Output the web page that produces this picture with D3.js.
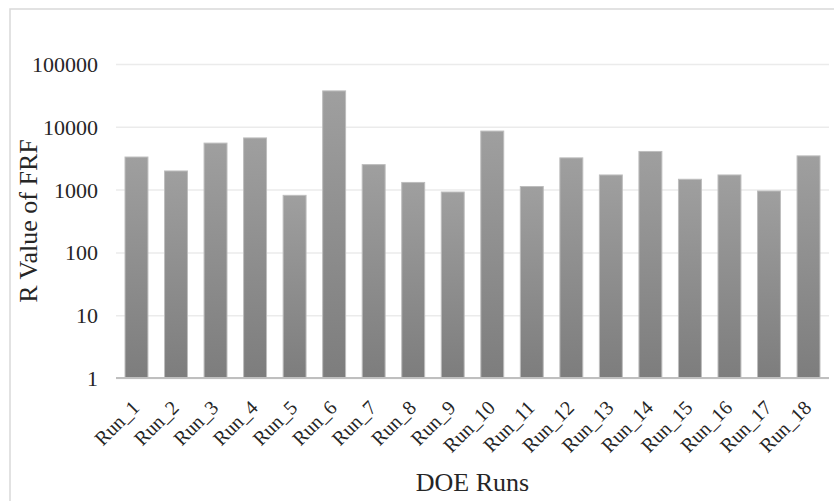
<!DOCTYPE html>
<html>
<head>
<meta charset="utf-8">
<script src="https://cdn.jsdelivr.net/npm/d3@7"></script>
<style>
  body { margin: 0; background: #fff; }
</style>
</head>
<body>
<div id="chart"></div>
<script>
// data (log axis)
const runs = ["Run_1", "Run_2", "Run_3", "Run_4", "Run_5", "Run_6", "Run_7", "Run_8", "Run_9",
  "Run_10", "Run_11", "Run_12", "Run_13", "Run_14", "Run_15", "Run_16", "Run_17", "Run_18"];
const rValues = [3300, 1980, 5500, 6650, 810, 37300, 2500, 1300, 915,
  8550, 1120, 3200, 1710, 4050, 1460, 1710, 950, 3440];
const yTicks = [1, 10, 100, 1000, 10000, 100000];

const svgWidth = 834,
  svgHeight = 501,
  plotLeft = 116,
  plotRight = 829,
  plotTop = 64,
  plotBottom = 378,
  serif = "'Liberation Serif', 'DejaVu Serif', 'Times New Roman', serif";

const svg = d3
  .select("#chart")
  .append("svg")
  .attr("width", svgWidth)
  .attr("height", svgHeight);

// chart frame
svg
  .append("rect")
  .attr("x", 10)
  .attr("y", 9)
  .attr("width", 900)
  .attr("height", 600)
  .attr("fill", "#fff")
  .attr("stroke", "#d9d9d9")
  .attr("stroke-width", 1.5);

const grad = svg
  .append("defs")
  .append("linearGradient")
  .attr("id", "barfill")
  .attr("x1", 0)
  .attr("y1", 0)
  .attr("x2", 0)
  .attr("y2", 1);
grad.append("stop").attr("offset", "0%").attr("stop-color", "#9f9f9f");
grad.append("stop").attr("offset", "100%").attr("stop-color", "#7d7d7d");

const x = d3
  .scaleBand()
  .domain(runs)
  .range([plotLeft + 0.7, plotRight - 0.7])
  .paddingInner(0.42)
  .paddingOuter(0.21);

const y = d3.scaleLog().domain([1, 100000]).range([plotBottom, plotTop]);

// y axis with gridlines
const yAxis = svg
  .append("g")
  .attr("transform", `translate(${plotLeft},0)`)
  .call(
    d3
      .axisLeft(y)
      .tickValues(yTicks)
      .tickFormat(d3.format("d"))
      .tickSize(-(plotRight - plotLeft))
      .tickPadding(18)
  );
yAxis.select(".domain").remove();
yAxis.selectAll("line").attr("stroke", "#ebebeb").attr("stroke-width", 1.5);
yAxis
  .selectAll("text")
  .style("font-family", serif)
  .style("font-size", "22px")
  .attr("fill", "#262626")
  .attr("dy", "0.34em");

// bars
svg
  .append("g")
  .selectAll("rect")
  .data(rValues)
  .enter()
  .append("rect")
  .attr("x", (d, i) => x(runs[i]))
  .attr("y", d => y(d))
  .attr("width", x.bandwidth())
  .attr("height", d => y(1) - y(d))
  .attr("fill", "url(#barfill)")
  .attr("stroke", "#bdbdbd")
  .attr("stroke-width", 1);

// x axis
const xAxis = svg
  .append("g")
  .attr("transform", `translate(0,${plotBottom})`)
  .call(d3.axisBottom(x).tickSize(0).tickPadding(0));
xAxis
  .select(".domain")
  .attr("d", `M${plotLeft},0H${plotRight}`)
  .attr("stroke", "#bfbfbf")
  .attr("stroke-width", 2);
xAxis
  .selectAll("text")
  .style("font-family", serif)
  .style("font-size", "20px")
  .attr("fill", "#262626")
  .attr("text-anchor", "end")
  .attr("y", 0)
  .attr("dy", 0)
  .attr("transform", "translate(4,31) rotate(-45)");

// axis titles
svg
  .append("text")
  .attr("transform", `translate(37,${(plotTop + plotBottom) / 2}) rotate(-90)`)
  .attr("text-anchor", "middle")
  .attr("fill", "#262626")
  .style("font-family", serif)
  .style("font-size", "26px")
  .text("R Value of FRF");

svg
  .append("text")
  .attr("x", (plotLeft + plotRight) / 2)
  .attr("y", 491)
  .attr("text-anchor", "middle")
  .attr("fill", "#262626")
  .style("font-family", serif)
  .style("font-size", "26px")
  .text("DOE Runs");
</script>
</body>
</html>
